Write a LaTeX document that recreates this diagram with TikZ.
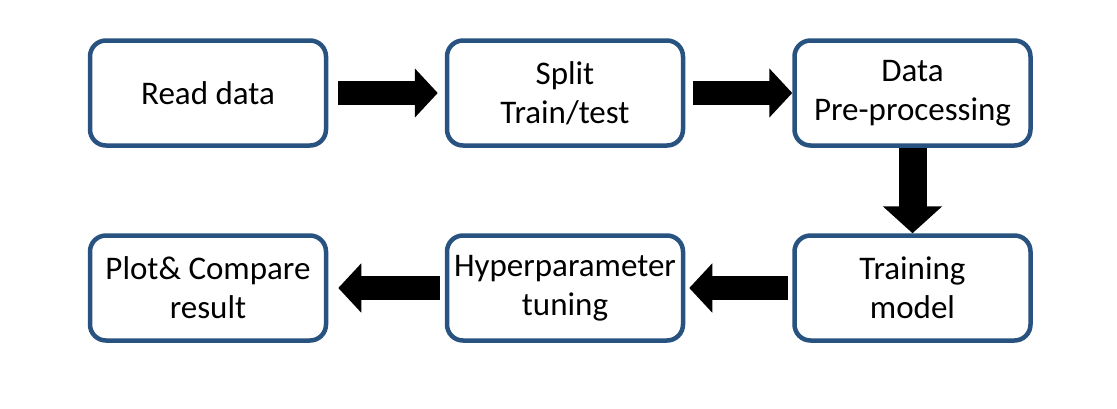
\documentclass[tikz,border=0pt]{standalone}
\usepackage{fontspec}
\setmainfont{Carlito}
\usetikzlibrary{arrows.meta}
\definecolor{boxblue}{RGB}{40,82,128}
\begin{document}
\begin{tikzpicture}[x=1pt,y=-1pt,
  box/.style={draw=boxblue, line width=4.5pt, rounded corners=16pt, minimum width=236pt, minimum height=105pt, align=center, font=\fontsize{33}{39}\selectfont, inner sep=0pt, fill=white},
  blockarrow/.style={draw=black, line width=24pt, -{Triangle[width=48pt,length=23pt]}},
  bigblockarrow/.style={draw=black, line width=28pt, -{Triangle[width=58pt,length=27pt]}}]
\useasboundingbox (0,0) rectangle (1117,408);
\node[box] (n1) at (208,93) {Read data};
\node[box] (n2) at (565,93) {Split\\Train/test};
\node[box] (n3) at (912.5,93) {Data\\Pre-processing};
\node[box] (n4) at (208,288) {Plot\& Compare\\result};
\node[box] (n5) at (565,288) {Hyperparameter\\tuning};
\node[box] (n6) at (912.5,288) {Training\\model};
\draw[blockarrow] ([xshift=10pt]n1.east) -- ([xshift=-7pt]n2.west);
\draw[blockarrow] ([xshift=8pt]n2.east) -- (n3.west);
\draw[bigblockarrow] (n3.south) -- (n6.north);
\draw[blockarrow] ([xshift=-4pt]n6.west) -- ([xshift=4pt]n5.east);
\draw[blockarrow] ([xshift=-5pt]n5.west) -- ([xshift=10pt]n4.east);
\end{tikzpicture}
\end{document}
